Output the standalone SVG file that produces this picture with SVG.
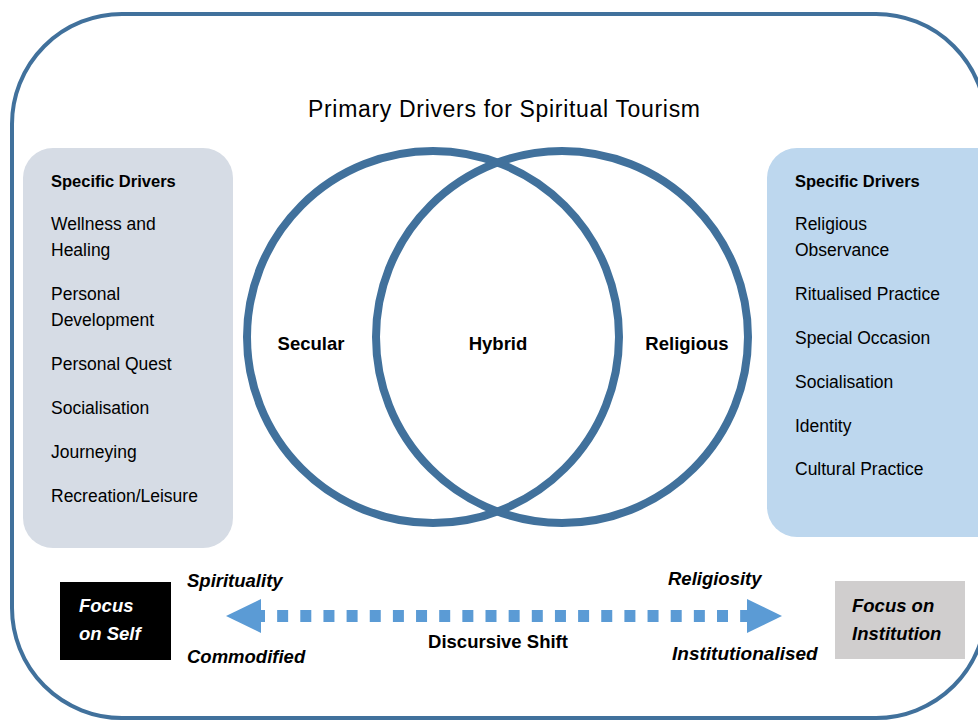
<svg xmlns="http://www.w3.org/2000/svg" width="978" height="720" viewBox="0 0 978 720">
  <style>
    text { font-family: "Liberation Sans", Arial, sans-serif; fill: #000; }
    .item { font-size: 17.5px; }
    .head { font-size: 16.5px; font-weight: bold; }
    .venn { font-size: 18.5px; font-weight: bold; }
    .bi { font-size: 18.5px; font-weight: bold; font-style: italic; }
    .ring { fill: none; stroke: #41719c; stroke-width: 8; }
    .arrowhead { fill: #5b9bd5; }
  </style>
  <rect id="frame" x="12" y="14" width="974" height="704" rx="110" ry="110" fill="#fff" stroke="#41719c" stroke-width="4"/>

  <g id="title">
    <text x="504" y="117" text-anchor="middle" font-size="23" textLength="392">Primary Drivers for Spiritual Tourism</text>
  </g>

  <g id="secular-drivers">
    <rect x="23" y="148" width="210" height="400" rx="30" ry="30" fill="#d6dce5"/>
    <text class="head" x="51" y="187">Specific Drivers</text>
    <text class="item" x="51" y="230">Wellness and</text>
    <text class="item" x="51" y="256">Healing</text>
    <text class="item" x="51" y="300">Personal</text>
    <text class="item" x="51" y="326">Development</text>
    <text class="item" x="51" y="370">Personal Quest</text>
    <text class="item" x="51" y="414">Socialisation</text>
    <text class="item" x="51" y="458">Journeying</text>
    <text class="item" x="51" y="502">Recreation/Leisure</text>
  </g>

  <g id="religious-drivers">
    <rect x="767" y="148" width="240" height="389" rx="30" ry="30" fill="#bdd7ee"/>
    <text class="head" x="795" y="187">Specific Drivers</text>
    <text class="item" x="795" y="230">Religious</text>
    <text class="item" x="795" y="256">Observance</text>
    <text class="item" x="795" y="300">Ritualised Practice</text>
    <text class="item" x="795" y="344">Special Occasion</text>
    <text class="item" x="795" y="388">Socialisation</text>
    <text class="item" x="795" y="432">Identity</text>
    <text class="item" x="795" y="475">Cultural Practice</text>
  </g>

  <g id="secular-circle">
    <circle class="ring" cx="433" cy="337" r="186"/>
    <text class="venn" x="311" y="350" text-anchor="middle">Secular</text>
  </g>
  <g id="religious-circle">
    <circle class="ring" cx="562" cy="337" r="186"/>
    <text class="venn" x="687" y="350" text-anchor="middle">Religious</text>
  </g>
  <g id="hybrid">
    <text class="venn" x="498" y="350" text-anchor="middle">Hybrid</text>
  </g>

  <g id="focus-self">
    <rect x="60" y="582" width="111" height="78" fill="#000"/>
    <text class="bi" x="79" y="612" style="fill:#fff">Focus</text>
    <text class="bi" x="79" y="640" style="fill:#fff">on Self</text>
  </g>

  <g id="focus-institution">
    <rect x="835" y="581" width="130" height="78" fill="#d0cece"/>
    <text class="bi" x="852" y="612">Focus on</text>
    <text class="bi" x="852" y="640">Institution</text>
  </g>

  <g id="connectors">
    <line x1="254" y1="616" x2="752" y2="616" stroke="#5b9bd5" stroke-width="12" stroke-dasharray="11 12.15"/>
    <polygon class="arrowhead" points="226,616 261,599 261,633"/>
    <polygon class="arrowhead" points="782,616 747,599 747,633"/>
  </g>

  <g id="shift-labels">
    <text class="bi" x="187" y="587">Spirituality</text>
    <text class="bi" x="187" y="663">Commodified</text>
    <text class="bi" x="668" y="585">Religiosity</text>
    <text class="bi" x="672" y="660" style="font-size:19px">Institutionalised</text>
    <text x="498" y="648" text-anchor="middle" font-size="18.5" font-weight="bold">Discursive Shift</text>
  </g>
</svg>
